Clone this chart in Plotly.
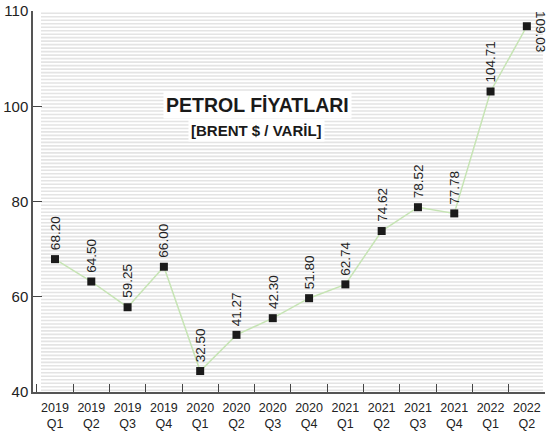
import plotly.graph_objects as go

# ---- data ----
quarters = ["2019 Q1", "2019 Q2", "2019 Q3", "2019 Q4",
            "2020 Q1", "2020 Q2", "2020 Q3", "2020 Q4",
            "2021 Q1", "2021 Q2", "2021 Q3", "2021 Q4",
            "2022 Q1", "2022 Q2"]
tick_text = ["2019<br>Q1", "2019<br>Q2", "2019<br>Q3", "2019<br>Q4",
             "2020<br>Q1", "2020<br>Q2", "2020<br>Q3", "2020<br>Q4",
             "2021<br>Q1", "2021<br>Q2", "2021<br>Q3", "2021<br>Q4",
             "2022<br>Q1", "2022<br>Q2"]
# printed price labels (Brent $ / barrel)
price_labels = [68.20, 64.50, 59.25, 66.00, 32.50, 41.27, 42.30,
                51.80, 62.74, 74.62, 78.52, 77.78, 104.71, 109.03]
# marker heights as drawn against the axis in the original picture
plot_values = [67.9, 63.2, 57.8, 66.3, 44.4, 52.0, 55.5,
               59.7, 62.6, 73.8, 78.8, 77.5, 103.1, 116.8]
y_tickvals = [40, 60, 80, 100, 120]
y_ticktext = ["40", "60", "80", "100", "110"]

title_text = "PETROL FİYATLARI"
subtitle_text = "[BRENT $ / VARİL]"

NARROW = "Liberation Sans Narrow, Arial Narrow, Liberation Sans, Arial, sans-serif"
SANS = "Liberation Sans, Arial, Helvetica, sans-serif"

fig = go.Figure()

fig.add_trace(go.Scatter(
    x=quarters, y=plot_values, mode="lines+markers",
    line=dict(color="#c6e4b4", width=1.5),
    marker=dict(symbol="square", size=8, color="#1a1a1a"),
    hoverinfo="skip", showlegend=False,
))

# striped background
y0, y1 = 40.0, 120.0
step = 0.733
parts = []
v = y0 + step / 2
while v < y1:
    parts.append(f"M 0.0156,{v:.3f} L 0.996,{v:.3f}")
    v += step
fig.add_shape(type="path", path=" ".join(parts), xref="paper", yref="y",
              line=dict(color="#e4e4e4", width=1.6), layer="below")

annotations = []
for i, (q, pv, lab) in enumerate(zip(quarters, plot_values, price_labels)):
    if i == len(quarters) - 1:
        annotations.append(dict(
            x=q, y=pv, xref="x", yref="y", text=f"{lab:.2f}",
            textangle=90, showarrow=False, xanchor="left", yanchor="middle",
            xshift=4, yshift=-5,
            font=dict(family=SANS, size=13.5, color="#222")))
    else:
        annotations.append(dict(
            x=q, y=pv, xref="x", yref="y", text=f"{lab:.2f}",
            textangle=-90, showarrow=False, xanchor="center", yanchor="bottom",
            yshift=7,
            font=dict(family=SANS, size=13.5, color="#222")))

annotations.append(dict(
    x=0.4375, y=0.789, xref="paper", yref="paper", text=f"<b>{title_text}</b>",
    showarrow=False, bgcolor="white", borderpad=2,
    font=dict(family=SANS, size=19.5, color="#1a1a1a")))
annotations.append(dict(
    x=0.436, y=0.716, xref="paper", yref="paper", text=f"<b>{subtitle_text}</b>",
    showarrow=False, bgcolor="white", borderpad=2,
    font=dict(family=NARROW, size=15, color="#1a1a1a")))

fig.update_layout(
    width=555, height=433,
    margin=dict(l=33, r=10, t=10.5, b=40.5, autoexpand=False),
    paper_bgcolor="white", plot_bgcolor="white",
    annotations=annotations,
    xaxis=dict(
        type="category", range=[-0.606, 13.5], automargin=False,
        tickmode="array", tickvals=quarters, ticktext=tick_text, tickangle=0,
        tickson="boundaries", ticks="inside", ticklen=8, tickwidth=1.3,
        tickcolor="#444", showline=True, linecolor="#555", linewidth=1.5,
        showgrid=False, zeroline=False, ticklabelstandoff=3,
        tickfont=dict(family=NARROW, size=12.5, color="#222"),
    ),
    yaxis=dict(
        range=[40, 120], tickmode="array", tickvals=y_tickvals, automargin=False,
        ticktext=y_ticktext, ticks="inside", ticklen=9, tickwidth=1.3,
        tickcolor="#444", showline=True, linecolor="#555", linewidth=1.5,
        showgrid=False, zeroline=False,
        tickfont=dict(family=SANS, size=15, color="#222"),
    ),
)

fig.write_html(
    "out.html",
    config={"displayModeBar": False},
    post_script="document.body.style.margin='0';document.body.style.overflow='hidden';",
)
